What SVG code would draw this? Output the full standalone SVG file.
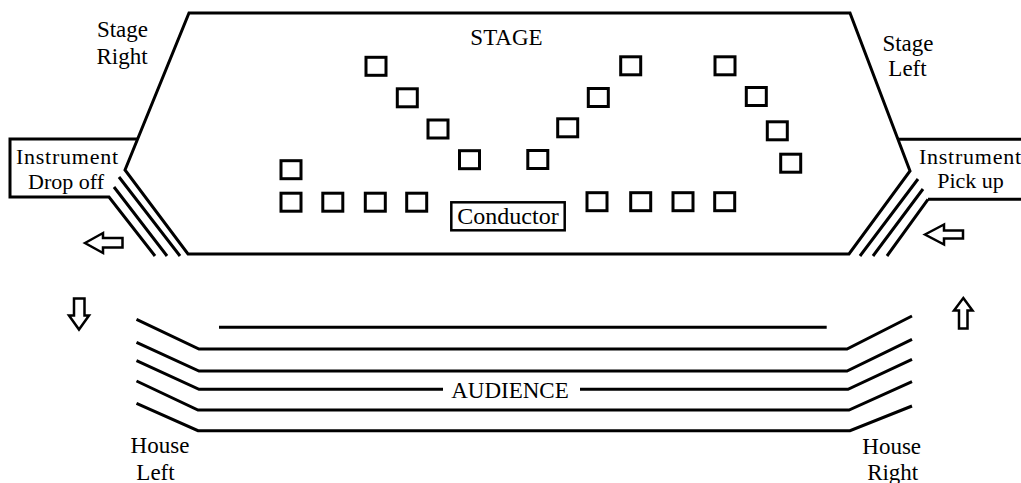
<svg xmlns="http://www.w3.org/2000/svg" width="1021" height="483" viewBox="0 0 1021 483">
<style>
.ln{fill:none;stroke:#000;stroke-width:3;stroke-linejoin:miter}
.sq{fill:none;stroke:#000;stroke-width:3}
.ar{fill:#fff;stroke:#000;stroke-width:2.5;stroke-linejoin:miter}
.t{font-family:"Liberation Serif","Times New Roman",serif;font-size:23px;fill:#000;text-anchor:middle}
.tb{font-size:24px}
.ti{font-size:22px}
</style>
<rect width="1021" height="483" fill="#fff"/>
<g id="stage">
<path class="ln" d="M189,13 L850,13 L910,171 L849,254 L188,254 L125,170 Z"/>
<text class="t" x="506.5" y="45">STAGE</text>
</g>
<g id="stage-right-label">
<text class="t" x="122.5" y="37">Stage</text>
<text class="t" x="122" y="64">Right</text>
</g>
<g id="stage-left-label">
<text class="t" x="908" y="51">Stage</text>
<text class="t" x="907.5" y="76">Left</text>
</g>
<g id="drop-off">
<path class="ln" d="M137,139 L10,139 L10,197 L109,197 L155,256"/>
<path class="ln" d="M119,177 L180,256 M114,187 L167,256"/>
<text class="t ti" x="67" y="164" textLength="102">Instrument</text>
<text class="t ti" x="66" y="188.5">Drop off</text>
</g>
<g id="pick-up">
<path class="ln" d="M898,139.3 L1025,139.3 M928,199.3 L1025,199.3"/>
<path class="ln" d="M928,199.3 L887,256 M923,189 L873,256 M918,179 L860,256"/>
<text class="t ti" x="970" y="164" textLength="102">Instrument</text>
<text class="t ti" x="970.5" y="188">Pick up</text>
</g>
<g id="chairs">
<rect class="sq" x="366" y="57.3" width="20" height="18"/>
<rect class="sq" x="397.3" y="88.8" width="20" height="18"/>
<rect class="sq" x="428" y="120" width="20" height="18"/>
<rect class="sq" x="459.5" y="150.7" width="20" height="18"/>
<rect class="sq" x="527.8" y="150.5" width="20" height="18"/>
<rect class="sq" x="281" y="160.7" width="20" height="18"/>
<rect class="sq" x="620.7" y="56.8" width="20" height="18"/>
<rect class="sq" x="588.3" y="88.5" width="20" height="18"/>
<rect class="sq" x="557.7" y="118.8" width="20" height="18"/>
<rect class="sq" x="715" y="56.8" width="20" height="18"/>
<rect class="sq" x="746.3" y="87.5" width="20" height="18"/>
<rect class="sq" x="767.3" y="121.8" width="20" height="18"/>
<rect class="sq" x="780.7" y="154.2" width="20" height="18"/>
<rect class="sq" x="281" y="193.2" width="20" height="18"/>
<rect class="sq" x="322.8" y="193.2" width="20" height="18"/>
<rect class="sq" x="365.3" y="193.2" width="20" height="18"/>
<rect class="sq" x="406.7" y="193.2" width="20" height="18"/>
<rect class="sq" x="587" y="192.7" width="20" height="18"/>
<rect class="sq" x="630.7" y="192.7" width="20" height="18"/>
<rect class="sq" x="673" y="192.7" width="20" height="18"/>
<rect class="sq" x="714.7" y="192.7" width="20" height="18"/>
</g>
<g id="conductor">
<rect x="451.3" y="202.3" width="113.4" height="28" fill="#fff" stroke="#000" stroke-width="2.5"/>
<text class="t tb" x="508" y="224">Conductor</text>
</g>
<g id="arrows">
<polygon class="ar" points="85,243 103,233 103,238 122.5,238 122.5,247.5 103,247.5 103,253"/>
<polygon class="ar" points="74,298.5 84.5,298.5 84.5,315.5 89,315.5 79,329.5 69,315.5 74,315.5"/>
<polygon class="ar" points="925,234.5 944,224.5 944,230.5 963,230.5 963,238.5 944,238.5 944,244.5"/>
<polygon class="ar" points="963.3,298 972.5,310.5 967.5,310.5 967.5,328.5 959,328.5 959,310.5 954,310.5"/>
</g>
<g id="audience">
<path class="ln" d="M219,327.3 L826.7,327.3"/>
<path class="ln" d="M136.5,319.3 L199,349 L847,349 L912,316"/>
<path class="ln" d="M136.5,342.3 L199,371 L847,371 L912,339.3"/>
<path class="ln" d="M136.5,360.7 L199,389.3 L443,389.3 M580,389.3 L848,389.3 L912,359.3"/>
<path class="ln" d="M136.5,381 L198,410 L849,410 L912,381.7"/>
<path class="ln" d="M136.5,403.3 L198,430.7 L850,430.7 L912,406"/>
<text class="t" x="510" y="398">AUDIENCE</text>
</g>
<g id="house-left">
<text class="t" x="160" y="453.3">House</text>
<text class="t" x="155.5" y="480">Left</text>
</g>
<g id="house-right">
<text class="t" x="891.7" y="454">House</text>
<text class="t" x="892.7" y="480">Right</text>
</g>
</svg>
